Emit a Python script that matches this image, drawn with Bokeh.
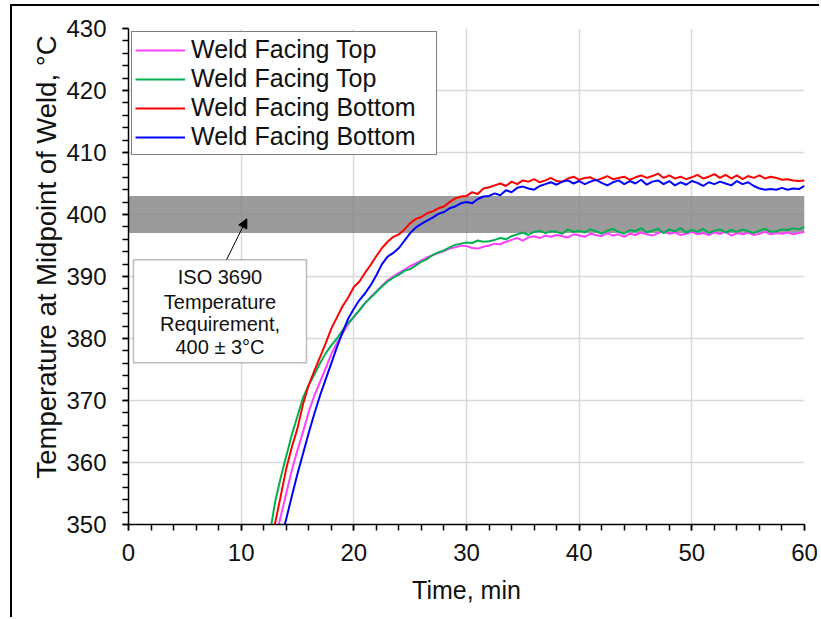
from bokeh.plotting import figure
from bokeh.models import (Range1d, SingleIntervalTicker, Legend, LegendItem,
                          Label, Arrow, NormalHead, BoxAnnotation, Title)
from bokeh.embed import file_html
from bokeh.resources import INLINE

# ---------------- data ----------------
step = 0.5  # sampling interval, min

top1_start = 13.0  # magenta
top1 = [347.4, 351.2, 355.0, 358.8, 362.0, 365.0, 368.2, 370.8, 373.0, 375.2,
        377.5, 379.3, 380.8, 382.3, 383.5, 384.5, 385.7, 386.7, 387.6, 388.5,
        389.4, 390.0, 390.6, 391.1, 391.7, 392.1, 392.6, 393.1, 393.4, 393.8,
        394.1, 394.5, 394.7, 395.0, 394.9, 394.6, 394.5, 394.8, 395.0, 395.3,
        395.2, 395.6, 395.9, 396.2, 395.8, 396.3, 396.5,
        396.2, 396.6, 396.4, 396.7, 396.5, 396.3, 396.8, 396.6, 396.4, 396.9,
        396.7, 396.5, 397.0, 396.6, 396.8, 396.4, 396.9, 396.7, 397.1, 396.8,
        396.6, 397.0, 397.3, 396.9, 397.1, 396.7, 396.9, 397.2, 396.8, 397.0,
        396.7, 397.1, 396.9, 397.2, 396.6, 397.0, 396.8, 397.1, 396.7, 396.9,
        397.2, 396.8, 397.0, 396.9, 397.1, 396.8, 397.0, 397.2]

top2_start = 12.5  # green
top2 = [348.0, 353.5, 357.5, 361.0, 364.5, 367.5, 370.5, 372.5, 374.2, 376.0,
        377.6, 378.9, 380.0, 381.3, 382.5, 383.5, 384.6, 385.7, 386.6, 387.5,
        388.4, 389.2, 389.8, 390.3, 390.9, 391.2, 391.8, 392.4, 392.8, 393.5,
        393.9, 394.2, 394.7, 395.1, 395.3, 395.5, 395.4, 395.8, 395.6, 395.7,
        395.9, 396.2, 396.0, 396.5, 396.8, 397.1, 396.7, 397.2, 397.4, 397.0,
        397.3, 397.2, 396.9, 397.6, 397.2, 397.4,
        397.1, 397.6, 397.3, 396.9, 397.4, 397.7, 397.2, 396.9, 397.5, 397.3,
        397.8, 397.1, 397.4, 397.7, 397.0, 397.6, 397.3, 397.8, 397.1, 397.5,
        397.2, 397.7, 397.0, 397.4, 397.6, 397.1, 397.5, 397.2, 397.6, 397.3,
        397.0, 397.4, 397.7, 397.2, 397.3, 397.6, 397.5, 397.8, 397.6, 398.0]

bot1_start = 12.5  # red
bot1 = [347.0, 350.1, 354.5, 359.0, 362.5, 365.5, 369.5, 372.5, 374.8, 377.0,
        379.2, 381.6, 383.4, 385.2, 386.6, 388.3, 389.2, 390.6, 391.9, 393.3,
        394.6, 395.6, 396.4, 396.8, 397.6, 398.6, 399.3, 399.6, 400.2, 400.5,
        401.0, 401.3, 402.0, 402.6, 402.9, 403.0, 403.6, 403.3, 404.2, 404.4,
        404.7, 405.0, 404.6, 405.3, 404.9, 405.5, 405.3,
        405.7, 405.2, 405.5, 405.9, 405.4, 405.3, 405.8, 406.1, 405.6, 405.9,
        406.0, 405.5, 405.8, 406.2, 405.7, 405.9, 406.1, 405.6, 406.0, 406.3,
        405.9, 406.2, 406.6, 405.9, 406.3, 405.8, 406.1, 405.7, 406.0, 406.4,
        405.8, 406.1, 406.5, 405.9, 406.4, 405.8, 406.3, 405.7, 406.2, 405.9,
        406.3, 405.8, 406.1, 405.9, 405.6, 405.7, 405.5, 405.4, 405.5]

bot2_start = 13.5  # blue
bot2 = [347.4, 350.9, 354.6, 358.2, 361.5, 364.8, 367.9, 370.8, 373.4, 376.0,
        378.6, 381.0, 383.2, 384.8, 386.2, 387.3, 388.6, 390.2, 392.0, 393.2,
        393.8, 394.6, 395.8, 397.0, 397.9, 398.5, 399.0, 399.5, 400.1, 400.4,
        401.0, 401.3, 401.8, 402.0, 401.8, 402.5, 402.9, 403.0, 403.4, 403.1,
        403.9, 403.6, 404.3, 404.5, 404.2,
        404.0, 404.6, 404.9, 405.2, 404.8, 405.3, 405.5, 405.0, 405.4, 404.9,
        405.3, 405.6, 405.1, 404.7, 405.2, 405.5, 404.9, 405.4, 405.0, 405.6,
        404.8, 405.3, 405.5, 404.9, 405.4, 404.7, 405.2, 404.8, 405.4, 405.1,
        404.6, 405.2, 404.9, 405.3, 405.0, 404.7, 405.4, 404.9, 405.2, 404.6,
        404.2, 404.0, 404.1, 404.0, 404.3, 404.0, 404.2, 404.1, 404.6]

series_labels = ["Weld Facing Top", "Weld Facing Top",
                 "Weld Facing Bottom", "Weld Facing Bottom"]
iso_target = 400.0
iso_tol = 3.0
x_ticks_interval = 10
y_ticks_interval = 10


def times(start, vals):
    return [start + step * i for i in range(len(vals))]


FONT = "Liberation Sans"
TXT = "#111111"

# ---------------- figure ----------------
p = figure(width=809, height=613, x_range=Range1d(0, 60), y_range=Range1d(350, 430),
           output_backend="svg", toolbar_location=None,
           min_border_left=116, min_border_right=17, min_border_top=22,
           min_border_bottom=95)
p.styles = {"margin-left": "10px", "margin-top": "4px",
            "border-left": "2px solid black", "border-top": "2px solid black"}
p.outline_line_color = None
p.background_fill_color = "white"
p.border_fill_color = "white"

p.xaxis.ticker = SingleIntervalTicker(interval=x_ticks_interval, num_minor_ticks=5)
p.yaxis.ticker = SingleIntervalTicker(interval=y_ticks_interval, num_minor_ticks=5)

for ax in (p.xaxis[0], p.yaxis[0]):
    ax.axis_line_color = "black"
    ax.axis_line_width = 1.5
    ax.major_tick_line_color = "black"
    ax.minor_tick_line_color = "black"
    ax.major_tick_line_width = 1.5
    ax.minor_tick_line_width = 1.5
    ax.major_tick_in = 0
    ax.major_tick_out = 6
    ax.minor_tick_in = 0
    ax.minor_tick_out = 6
    ax.major_label_text_font = FONT
    ax.major_label_text_font_size = "24px"
    ax.major_label_text_color = TXT
    ax.axis_label_text_font = FONT
    ax.axis_label_text_font_style = "normal"
    ax.axis_label_text_color = TXT

p.xaxis.axis_label = "Time, min"
p.xaxis.axis_label_text_font_size = "25px"
p.xaxis.major_label_standoff = 13
p.xaxis.axis_label_standoff = 12
p.yaxis.major_label_standoff = 16

# y-axis title (as a side title so it can sit slightly above the frame centre)
ytitle = Title(text="Temperature at Midpoint of Weld, °C", align="left",
               offset=46, standoff=4, text_font=FONT, text_font_size="27.5px",
               text_font_style="normal", text_color=TXT)
p.add_layout(ytitle, "left")

p.xgrid.grid_line_color = "#d9d9d9"
p.ygrid.grid_line_color = "#d9d9d9"
p.xgrid.grid_line_width = 1.5
p.ygrid.grid_line_width = 1.5

# ISO band
band = BoxAnnotation(bottom=iso_target - iso_tol, top=iso_target + iso_tol,
                     fill_color="#7a7a7a", fill_alpha=0.75, line_color=None,
                     level="underlay")
p.add_layout(band)

colors = ["#ff40ff", "#00b050", "#ff0000", "#0000ff"]
data = [(top1_start, top1), (top2_start, top2), (bot1_start, bot1), (bot2_start, bot2)]
items = []
for (st, vals), c, lab in zip(data, colors, series_labels):
    r = p.line(times(st, vals), vals, line_color=c, line_width=2)
    items.append(LegendItem(label=lab, renderers=[r]))

legend = Legend(items=items, location="top_left", margin=3, padding=3, spacing=0,
                glyph_width=50, label_standoff=6, label_width=242,
                label_text_font=FONT, label_text_font_size="25px",
                label_text_color=TXT, border_line_color="black",
                border_line_width=1.5, background_fill_color="white",
                background_fill_alpha=1.0)
p.add_layout(legend)

# annotation box
note_box = BoxAnnotation(left=0.44, right=15.8, bottom=376.1, top=392.7,
                         fill_color="white", fill_alpha=1.0, line_color="#222222",
                         line_width=1.5, level="annotation")
p.add_layout(note_box)
note_lines = ["ISO 3690", "Temperature", "Requirement,", "400 ± 3°C"]
note_y = [389.95, 385.9, 382.3, 378.7]
for txt, yy in zip(note_lines, note_y):
    p.add_layout(Label(x=8.12, y=yy, text=txt, text_align="center",
                       text_baseline="middle", text_font=FONT,
                       text_font_size="20px", text_color=TXT))

p.add_layout(Arrow(end=NormalHead(size=9, fill_color="black", line_color="black"),
                   x_start=8.7, y_start=392.7, x_end=10.5, y_end=399.3,
                   line_color="black", line_width=1))

open("out.html", "w").write(file_html(p, INLINE))
